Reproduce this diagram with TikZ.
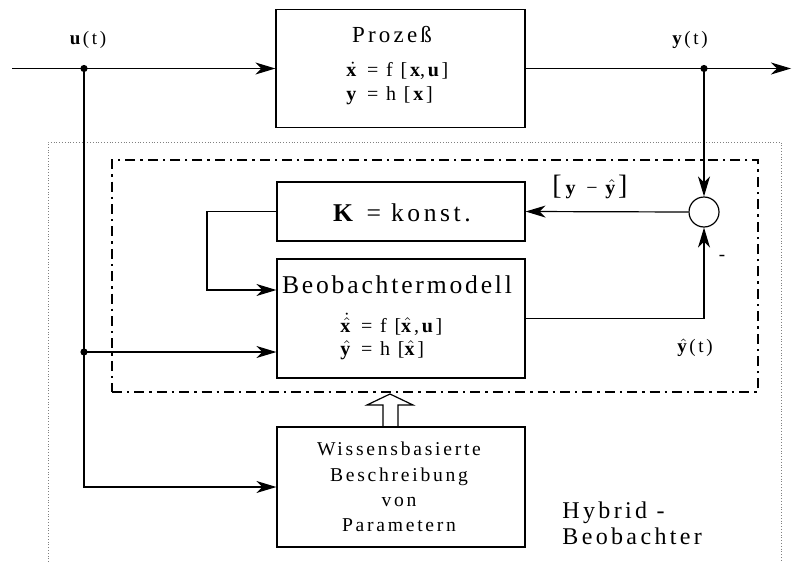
\documentclass[tikz,border=0pt]{standalone}
\usepackage{fontspec}
\setmainfont{Liberation Serif}
\newfontfamily\spaced[LetterSpace=14]{Liberation Serif}
\usetikzlibrary{arrows.meta,calc,positioning}

\newcommand{\vecx}{\textbf{x}}
\newcommand{\vecu}{\textbf{u}}
\newcommand{\vecy}{\textbf{y}}
\newcommand{\dotx}{\ensuremath{\dot{\mbox{\vecx}}}}
\newcommand{\hatx}{\ensuremath{\hat{\mbox{\vecx}}}}
\newcommand{\haty}{\ensuremath{\hat{\mbox{\vecy}}}}
\newcommand{\dothatx}{\ensuremath{\dot{\hat{\mbox{\vecx}}}}}

\tikzset{
  blockbox/.style={draw, line width=0.6pt, inner sep=0pt},
  sig/.style={line width=0.6pt, -{Stealth[length=10pt,width=6pt,inset=3pt]}},
  wire/.style={line width=0.6pt},
  sumnode/.style={draw, circle, line width=0.6pt, minimum size=15pt, inner sep=0pt},
  obsbox/.style={draw, line width=0.9pt, dash pattern=on 5pt off 2.5pt on 1.2pt off 2.5pt, inner sep=0pt},
  hybframe/.style={gray, line width=0.4pt, densely dotted},
  titletext/.style={font=\spaced\fontsize{12.8}{15}\selectfont, inner sep=0pt},
  eqtext/.style={font=\spaced\fontsize{10}{11}\selectfont, inner sep=0pt, anchor=west},
  sigtext/.style={font=\spaced\fontsize{9.5}{11}\selectfont, inner sep=0pt},
}

\begin{document}
\begin{tikzpicture}[x=0.5pt,y=-0.5pt]
  \useasboundingbox (0,0) rectangle (792,562);

  % Rahmen
  \draw[hybframe] (48,562) |- (781,142) -- (781,562);
  \node[obsbox, minimum width=323pt, minimum height=116pt] (obs) at (435,276) {};

  % Bloecke
  \node[blockbox, minimum width=124.5pt, minimum height=59pt] (proc) at (400.5,68.5) {};
  \node[blockbox, minimum width=124pt, minimum height=29.5pt] (kbox) at (401,211.5) {};
  \node[blockbox, minimum width=124pt, minimum height=59.5pt] (beob) at (401,318.5) {};
  \node[blockbox, minimum width=124pt, minimum height=60pt] (wiss) at (401,487) {};
  \node[sumnode] (sum) at (704,212) {};

  % Texte
  \node[titletext, font=\spaced\fontsize{11.5}{13}\selectfont] (proctitle) at (392,35) {Prozeß};
  \node[eqtext] (proceq1) at (346,71) {\dotx{} = f [\vecx,\vecu]};
  \node[eqtext] (proceq2) at (346,96) {\vecy{} = h [\vecx]};
  \node[titletext] (ktext) at (402,213) {\textbf{K} = konst.};
  \node[titletext, font=\spaced\addfontfeatures{LetterSpace=11}\fontsize{12.8}{15}\selectfont] (beobtitle) at (397,285) {Beobachtermodell};
  \node[eqtext] (beobeq1) at (340,324) {\dothatx{} = f [\hatx,\vecu]};
  \node[eqtext] (beobeq2) at (340,350) {\haty{} = h [\hatx]};
  \node[titletext, align=center, font=\spaced\fontsize{9.8}{12.7}\selectfont] (wisstext) at (399,487)
    {Wissensbasierte\\Beschreibung\\von\\Parametern};
  \node[titletext, align=left, anchor=west, font=\spaced\fontsize{12}{13}\selectfont] (hybtext) at (562,523)
    {Hybrid -\\Beobachter};

  % Signale
  \coordinate (in) at (12,68.5);
  \coordinate (out) at (791,68.5);
  \coordinate (ujunc) at (84,68.5);
  \coordinate (ujunc2) at (84,352);
  \coordinate (yjunc) at (704,68.5);
  \coordinate (kloop) at (207,211.5);

  \node[sigtext, above=10pt of ujunc, xshift=2pt] (ulabel) {\vecu (t)};
  \node[sigtext, above=10pt of yjunc, xshift=-7pt] (ylabel) {\vecy (t)};
  \node[sigtext, font=\spaced\fontsize{10}{11}\selectfont] (elabel) at (590,187)
    {{\fontsize{14}{14}\selectfont[}\vecy{} − \haty{\fontsize{14}{14}\selectfont]}};
  \node[sigtext] (minus) at (722,258) {-};
  \node[sigtext] (yhatlabel) at (695,348) {\haty(t)};

  \draw[sig] (in) -- (proc.west);
  \draw[sig] (proc.east) -- (out);
  \draw[sig] (yjunc) -- (sum.north);
  \draw[sig] (sum.west) -- (kbox.east);
  \draw[sig] (kbox.west) -- (kloop) |- (beob.west |- 0,290);
  \draw[sig] (beob.east) -| (sum.south);
  \draw[wire] (ujunc) -- (ujunc2);
  \draw[sig] (ujunc2) |- (wiss.west);
  \draw[sig] (ujunc2) -- (beob.west |- ujunc2);
  \fill (ujunc) circle (1.8pt) (ujunc2) circle (1.8pt) (yjunc) circle (1.8pt);

  % Wissenspfeil
  \draw[line width=0.6pt] (383,426) -- (383,405) -- (367,405) -- (390,394)
    -- (413,405) -- (398,405) -- (398,426);
\end{tikzpicture}
\end{document}
